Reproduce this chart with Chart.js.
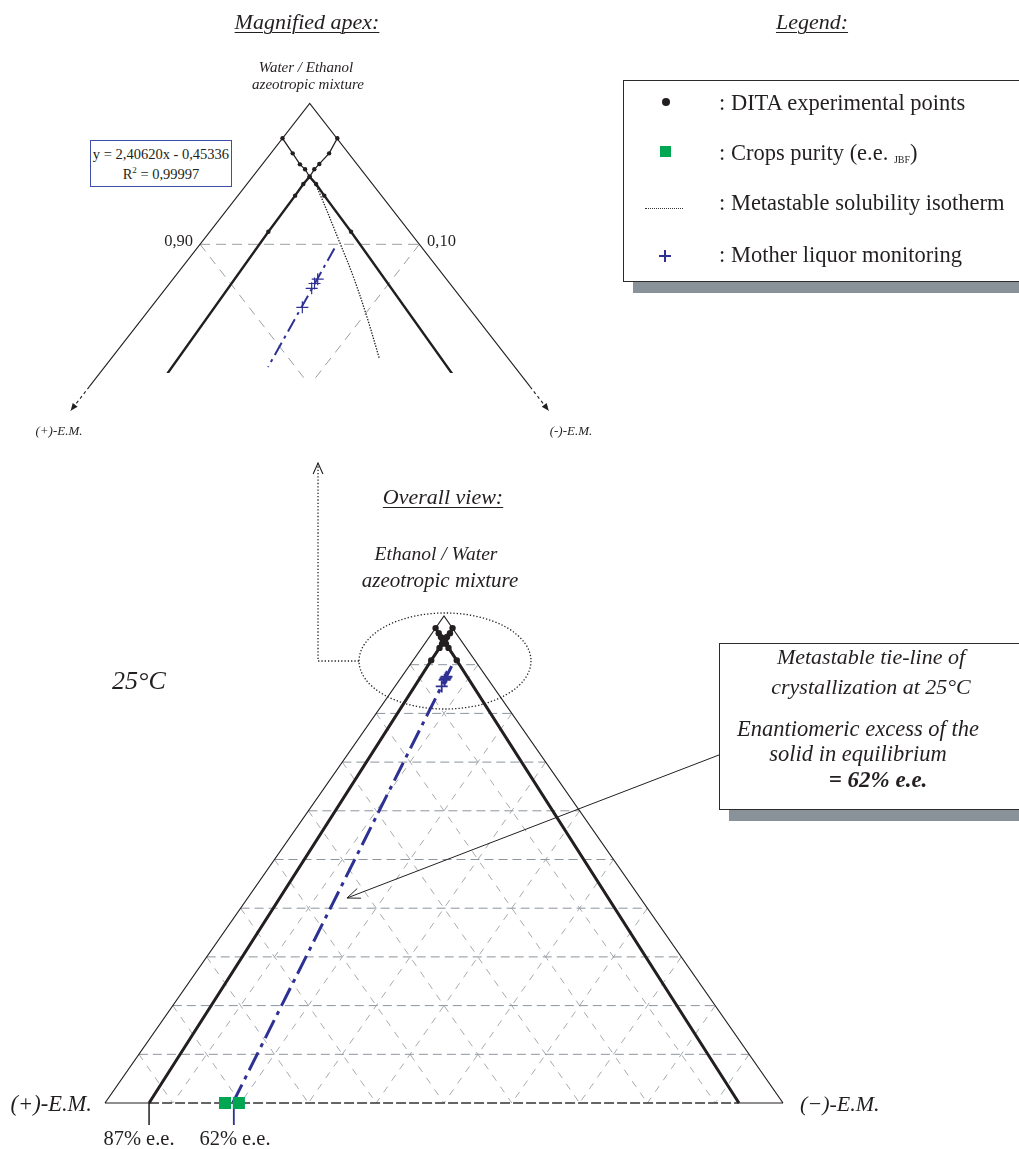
<!DOCTYPE html>
<html>
<head>
<meta charset="utf-8">
<title>DITA ternary phase diagram – ethanol/water, 25 °C</title>
<script src="https://cdn.jsdelivr.net/npm/chart.js@4.4.1/dist/chart.umd.min.js"></script>
<style>
  html, body { margin: 0; padding: 0; background: #fff; }
  #page { position: relative; width: 1019px; height: 1149px; overflow: hidden;
          font-family: "Liberation Serif", "Times New Roman", serif; color: #231f20; }
  #plot { position: absolute; left: 0; top: 0; }
  .t { position: absolute; white-space: nowrap; line-height: 1; }
  .mid { transform: translate(-50%, -50%); }
  .lft { transform: translate(0, -50%); }
  .rgt { transform: translate(-100%, -50%); }
  .it { font-style: italic; }
  .ul { text-decoration: underline; text-underline-offset: 3px; text-decoration-thickness: 1.3px; }
  .box { position: absolute; background: #fff; border: 1.5px solid #2b2b2b; box-shadow: 10px 11px 0 #8a9299; }
</style>
</head>
<body>
<div id="page">
  <canvas id="plot" width="1019" height="1149"></canvas>

  <!-- headings -->
  <div class="t mid it ul" style="left:307px;top:22px;font-size:22px;">Magnified apex:</div>
  <div class="t mid it ul" style="left:812px;top:22px;font-size:22px;">Legend:</div>
  <div class="t mid it ul" style="left:443px;top:497px;font-size:22px;">Overall view:</div>

  <!-- magnified apex labels -->
  <div class="t mid it" style="left:306px;top:67px;font-size:15px;">Water / Ethanol</div>
  <div class="t mid it" style="left:308px;top:84px;font-size:15px;">azeotropic mixture</div>
  <div style="position:absolute;left:90px;top:140px;width:140px;height:45px;border:1px solid #3d4fa8;background:#fff;"></div>
  <div class="t mid" style="left:161px;top:154px;font-size:14.5px;">y = 2,40620x - 0,45336</div>
  <div class="t mid" style="left:161px;top:174px;font-size:14.5px;">R<sup style="font-size:9px;vertical-align:6px;line-height:0;">2</sup> = 0,99997</div>
  <div class="t rgt" style="left:193px;top:241px;font-size:16.5px;">0,90</div>
  <div class="t lft" style="left:427px;top:241px;font-size:16.5px;">0,10</div>
  <div class="t mid it" style="left:59px;top:430px;font-size:13px;">(+)-E.M.</div>
  <div class="t mid it" style="left:571px;top:430px;font-size:13px;">(-)-E.M.</div>

  <!-- legend -->
  <div class="box" style="left:623px;top:80px;width:420px;height:200px;"></div>
  <div style="position:absolute;left:662px;top:98px;width:8px;height:8px;border-radius:50%;background:#231f20;"></div>
  <div class="t lft" style="left:719px;top:103px;font-size:22.5px;">: DITA experimental points</div>
  <div style="position:absolute;left:660px;top:146px;width:11px;height:11px;background:#00a651;"></div>
  <div class="t lft" style="left:719px;top:153px;font-size:22.5px;">: Crops purity (e.e. <span style="font-size:10px;vertical-align:-3px;">JBF</span>)</div>
  <div style="position:absolute;left:645px;top:208px;width:38px;height:0;border-top:1.5px dotted #333;"></div>
  <div class="t lft" style="left:719px;top:203px;font-size:22.5px;">: Metastable solubility isotherm</div>
  <div style="position:absolute;left:659px;top:255px;width:12px;height:2px;background:#2e3192;"></div>
  <div style="position:absolute;left:664px;top:250px;width:2px;height:12px;background:#2e3192;"></div>
  <div class="t lft" style="left:719px;top:255px;font-size:22.5px;">: Mother liquor monitoring</div>

  <!-- overall view labels -->
  <div class="t mid it" style="left:436px;top:554px;font-size:19.5px;">Ethanol / Water</div>
  <div class="t mid it" style="left:440px;top:580px;font-size:21px;">azeotropic mixture</div>
  <div class="t lft it" style="left:112px;top:681px;font-size:26px;">25°C</div>
  <div class="t rgt it" style="left:92px;top:1104px;font-size:22.5px;">(+)-E.M.</div>
  <div class="t lft it" style="left:800px;top:1104px;font-size:22px;">(−)-E.M.</div>
  <div class="t mid" style="left:139px;top:1138px;font-size:20.5px;">87% e.e.</div>
  <div class="t mid" style="left:235px;top:1138px;font-size:20.5px;">62% e.e.</div>

  <!-- tie-line note -->
  <div class="box" style="left:719px;top:643px;width:330px;height:165px;"></div>
  <div class="t mid it" style="left:871px;top:657px;font-size:22px;">Metastable tie-line of</div>
  <div class="t mid it" style="left:871px;top:687px;font-size:22px;">crystallization at 25°C</div>
  <div class="t mid it" style="left:858px;top:729px;font-size:22.5px;">Enantiomeric excess of the</div>
  <div class="t mid it" style="left:858px;top:754px;font-size:22.5px;">solid in equilibrium</div>
  <div class="t mid it" style="left:878px;top:779px;font-size:23px;font-weight:bold;">= 62% e.e.</div>
</div>

<script>
// ---------------------------------------------------------------------------
// Compositions are mass fractions: s = ethanol/water solvent,
// wM = (−)-enantiomer, wP = (+)-enantiomer (wP + wM + s = 1).
// ---------------------------------------------------------------------------

// DITA solubility branch running down to the (−)-E.M. side: solvent and (+) fractions
const branchToMinusSolvent = [0.9752, 0.9645, 0.9567, 0.9532, 0.9479, 0.9428, 0.9345, 0.9089];
const branchToMinusWPlus   = [0.0248, 0.0255, 0.0261, 0.0255, 0.0261, 0.0257, 0.0261, 0.0267];
// DITA solubility branch running down to the (+)-E.M. side: solvent and (−) fractions
const branchToPlusSolvent  = [0.9752, 0.9645, 0.9570, 0.9532, 0.9479, 0.9428, 0.9345, 0.9089];
const branchToPlusWMinus   = [0.0250, 0.0266, 0.0259, 0.0255, 0.0260, 0.0257, 0.0261, 0.0267];
const crossingIndex = 4;          // double-saturation (racemic) point
const branchBaseEE = 0.87;        // e.e. where each branch reaches the solvent-free base

// metastable solubility isotherm: solvent and (−) fractions
const isothermSolvent = [0.9463, 0.9409, 0.9007, 0.8770, 0.8487, 0.8191];
const isothermWMinus  = [0.0275, 0.0327, 0.0635, 0.0814, 0.1017, 0.1222];

// mother liquor monitoring: solvent and (−) fractions
const motherLiquorSolvent = [0.8753, 0.8722, 0.8688, 0.8553];
const motherLiquorWMinus  = [0.0660, 0.0661, 0.0665, 0.0690];

// crops purity (e.e. JBF) of the recovered solids, on the base
const cropsEE = [0.646, 0.605];

// tie-line regression, y = a·x + b in equilateral cartesian coordinates
const tieSlope = 2.40620;
const tieIntercept = -0.45336;
const tieTopSolvent = 0.897;      // upper end of the tie-line
const tieMagLowSolvent = 0.813;   // lower end inside the magnified window
const tieLineEE = 0.62;

// grid ticks (fractions)
const gridTicks = [0.1, 0.2, 0.3, 0.4, 0.5, 0.6, 0.7, 0.8, 0.9];
const magGridTick = 0.90;
const magGridFloor = 0.805;       // lowest solvent fraction of the magnified grid
const magEdgeSolid = 0.799;       // magnified edges: solid part ends here
const magEdgeArrow = 0.782;       // ...dashed continuation ends at the arrow tip

// ---------------------------------------------------------------------------
const SQ3_2 = Math.sqrt(3) / 2;
const pt = (s, wM) => ({ x: wM + s / 2, y: s });               // ternary -> plane
const eeBase = (ee, towardPlus) => pt(0, towardPlus ? (1 - ee) / 2 : (1 + ee) / 2);
const tiePoint = s => ({ x: (s * SQ3_2 - tieIntercept) / tieSlope, y: s });

const branchA = branchToMinusSolvent.map((s, i) => pt(s, 1 - s - branchToMinusWPlus[i]));
const branchB = branchToPlusSolvent.map((s, i) => pt(s, branchToPlusWMinus[i]));
const lineA = branchA.concat([eeBase(branchBaseEE, false)]);
const lineB = branchB.concat([eeBase(branchBaseEE, true)]);
const ditaPoints = branchA.concat(branchB);
const isotherm = isothermSolvent.map((s, i) => pt(s, isothermWMinus[i]));
const motherLiquor = motherLiquorSolvent.map((s, i) => pt(s, motherLiquorWMinus[i]));
const crops = cropsEE.map(ee => eeBase(ee, true));

const BLACK = '#231f20', BLUE = '#2e3192', GREEN = '#00a651';
const HGRID = '#8c949c', DGRID = '#a6abb0';

const datasets = [];
function line(data, axes, style, order) {
  datasets.push(Object.assign({
    type: 'scatter', data, showLine: true, pointRadius: 0, tension: 0,
    borderColor: BLACK, borderWidth: 1, backgroundColor: BLACK,
    xAxisID: axes[0], yAxisID: axes[1], order
  }, style));
}
function marks(data, axes, style, order) {
  datasets.push(Object.assign({
    type: 'scatter', data, showLine: false,
    xAxisID: axes[0], yAxisID: axes[1], order
  }, style));
}
const OV = ['x', 'y'], MG = ['xm', 'ym'];

// ---- overall view: ternary grid ----
gridTicks.forEach(c => {
  line([pt(c, 0), pt(c, 1 - c)], OV, { borderColor: HGRID, borderDash: [9, 5] }, 20);           // solvent = c
  line([pt(1 - c, 0), pt(0, 1 - c)], OV, { borderColor: DGRID, borderDash: [7, 7] }, 21);       // wP = c
  line([pt(1 - c, c), pt(0, c)], OV, { borderColor: DGRID, borderDash: [7, 7] }, 21);           // wM = c
});
// triangle edges
line([pt(0, 0), pt(1, 0), pt(0, 1)], OV, { borderWidth: 1.2 }, 10);
line([pt(0, 0), eeBase(branchBaseEE, true)], OV, { borderWidth: 1.2 }, 10);
line([eeBase(branchBaseEE, false), pt(0, 1)], OV, { borderWidth: 1.2 }, 10);
line([eeBase(branchBaseEE, true), eeBase(branchBaseEE, false)], OV,
     { borderColor: '#333', borderWidth: 1.6, borderDash: [10, 3] }, 10);
// solubility branches: thin above the crossing, thick below
const branchSeg = (thin, thick) => ({ borderWidth: c => c.p0DataIndex < crossingIndex ? thin : thick });
line(lineA, OV, { borderWidth: 3, segment: branchSeg(1.5, 3) }, 6);
line(lineB, OV, { borderWidth: 3, segment: branchSeg(1.5, 3) }, 6);
// e.e. ticks below the base
line([eeBase(branchBaseEE, true), { x: eeBase(branchBaseEE, true).x, y: -0.045 }], OV, { borderWidth: 1.5 }, 6);
line([eeBase(tieLineEE, true), { x: eeBase(tieLineEE, true).x, y: -0.045 }], OV, { borderColor: BLUE, borderWidth: 1.8 }, 6);
// tie-line
line([tiePoint(tieTopSolvent), tiePoint(0)], OV,
     { borderColor: BLUE, borderWidth: 3, borderDash: [20, 6, 4, 6] }, 5);
marks(motherLiquor, OV, { pointStyle: 'cross', pointRadius: 6, borderColor: BLUE, borderWidth: 1.8 }, 2);
marks(crops, OV, { pointStyle: 'rect', pointRadius: 8.5, backgroundColor: GREEN, borderColor: GREEN, borderWidth: 0 }, 3);
marks(ditaPoints, OV, { pointStyle: 'circle', pointRadius: 3.2, backgroundColor: BLACK, borderColor: BLACK, borderWidth: 0 }, 1);

// ---- magnified apex ----
const magClipBranch = { left: false, top: false, right: false, bottom: 373 - 1149 };
line([pt(magGridTick, 0), pt(magGridTick, 1 - magGridTick)], MG, { borderColor: '#9a9ea3', borderDash: [10, 6] }, 20);
line([pt(magGridTick, 0), pt(magGridFloor, 1 - (1 - magGridTick) - magGridFloor)], MG, { borderColor: '#9a9ea3', borderDash: [9, 7] }, 20);
line([pt(magGridTick, 1 - magGridTick), pt(magGridFloor, 1 - magGridTick)], MG, { borderColor: '#9a9ea3', borderDash: [9, 7] }, 20);
line([pt(magEdgeSolid, 0), pt(1, 0), pt(magEdgeSolid, 1 - magEdgeSolid)], MG, { borderWidth: 1.1 }, 10);
line([pt(magEdgeSolid, 0), pt(magEdgeArrow, 0)], MG, { borderWidth: 1.1, borderDash: [3, 3] }, 10);
line([pt(magEdgeSolid, 1 - magEdgeSolid), pt(magEdgeArrow, 1 - magEdgeArrow)], MG, { borderWidth: 1.1, borderDash: [3, 3] }, 10);
line(lineA, MG, { borderWidth: 2.4, segment: branchSeg(1.3, 2.4), clip: magClipBranch }, 6);
line(lineB, MG, { borderWidth: 2.4, segment: branchSeg(1.3, 2.4), clip: magClipBranch }, 6);
line(isotherm, MG, { borderWidth: 1.3, borderDash: [1.4, 1.4], tension: 0.35 }, 6);
line([tiePoint(tieTopSolvent), tiePoint(tieMagLowSolvent)], MG,
     { borderColor: BLUE, borderWidth: 2, borderDash: [14, 5, 3, 5] }, 5);
marks(motherLiquor, MG, { pointStyle: 'cross', pointRadius: 6, borderColor: BLUE, borderWidth: 1.2 }, 2);
marks(ditaPoints, MG, { pointStyle: 'circle', pointRadius: 2.2, backgroundColor: BLACK, borderColor: BLACK, borderWidth: 0 }, 1);

// ---- annotation geometry in overall-view units ----
const zoomEllipse = { cx: 0.5015, cy: 0.9076, rx: 0.1268, ry: 0.0986 };
const zoomConnector = [{ x: 0.3746, y: 0.9076 }, { x: 0.3142, y: 0.9076 }, { x: 0.3142, y: 1.3142 }];
const noteArrow = [{ x: 0.9056, y: 0.7146 }, { x: 0.3569, y: 0.4209 }];

function arrowHead(ctx, from, to, len, half, filled) {
  const a = Math.atan2(to[1] - from[1], to[0] - from[0]);
  const p1 = [to[0] - len * Math.cos(a - half), to[1] - len * Math.sin(a - half)];
  const p2 = [to[0] - len * Math.cos(a + half), to[1] - len * Math.sin(a + half)];
  ctx.setLineDash([]);
  ctx.beginPath();
  ctx.moveTo(p1[0], p1[1]); ctx.lineTo(to[0], to[1]); ctx.lineTo(p2[0], p2[1]);
  if (filled) { ctx.closePath(); ctx.fill(); } else { ctx.stroke(); }
}

const decorations = {
  id: 'decorations',
  afterDatasetsDraw(chart) {
    const { ctx, scales: { x, y, xm, ym } } = chart;
    const P = q => [x.getPixelForValue(q.x), y.getPixelForValue(q.y)];
    const M = q => [xm.getPixelForValue(q.x), ym.getPixelForValue(q.y)];
    ctx.save();
    ctx.strokeStyle = BLACK; ctx.fillStyle = BLACK;

    // dotted ellipse round the apex
    const c = P({ x: zoomEllipse.cx, y: zoomEllipse.cy });
    const rx = Math.abs(x.getPixelForValue(zoomEllipse.cx + zoomEllipse.rx) - c[0]);
    const ry = Math.abs(y.getPixelForValue(zoomEllipse.cy + zoomEllipse.ry) - c[1]);
    ctx.lineWidth = 1.3; ctx.setLineDash([1.3, 2]);
    ctx.beginPath(); ctx.ellipse(c[0], c[1], rx, ry, 0, 0, 2 * Math.PI); ctx.stroke();

    // dotted connector up to the magnified view
    const cp = zoomConnector.map(P);
    ctx.beginPath(); ctx.moveTo(cp[0][0], cp[0][1]);
    cp.slice(1).forEach(p => ctx.lineTo(p[0], p[1]));
    ctx.stroke();
    ctx.lineWidth = 1.1;
    arrowHead(ctx, cp[1], cp[2], 12, 0.42, false);

    // note arrow
    const na = noteArrow.map(P);
    ctx.lineWidth = 1; ctx.setLineDash([]);
    ctx.beginPath(); ctx.moveTo(na[0][0], na[0][1]); ctx.lineTo(na[1][0], na[1][1]); ctx.stroke();
    arrowHead(ctx, na[0], na[1], 14, 0.38, false);

    // arrow tips on the magnified edges
    arrowHead(ctx, M(pt(magEdgeSolid, 0)), M(pt(magEdgeArrow, 0)), 8, 0.4, true);
    arrowHead(ctx, M(pt(magEdgeSolid, 1 - magEdgeSolid)), M(pt(magEdgeArrow, 1 - magEdgeArrow)), 8, 0.4, true);
    ctx.restore();
  }
};

const W = 1019, H = 1149;
const ovPx = { left: 105, right: 783, base: 1103, apex: 616 };       // overall triangle frame
const mgPx = { cx: 309.7, apex: 103.3, perX: 2193, perS: 1410 };      // magnified frame
const ovPerX = ovPx.right - ovPx.left, ovPerS = ovPx.base - ovPx.apex;

new Chart(document.getElementById('plot'), {
  type: 'scatter',
  data: { datasets },
  options: {
    responsive: false, animation: false, devicePixelRatio: 1, events: [],
    layout: { padding: 0, autoPadding: false },
    plugins: { legend: { display: false }, tooltip: { enabled: false } },
    scales: {
      x:  { type: 'linear', display: false, min: -ovPx.left / ovPerX, max: (W - ovPx.left) / ovPerX },
      y:  { type: 'linear', display: false, min: (ovPx.base - H) / ovPerS, max: ovPx.base / ovPerS },
      xm: { type: 'linear', axis: 'x', position: 'bottom', display: false,
            min: 0.5 - mgPx.cx / mgPx.perX, max: 0.5 + (W - mgPx.cx) / mgPx.perX },
      ym: { type: 'linear', axis: 'y', position: 'left', display: false,
            min: 1 - (H - mgPx.apex) / mgPx.perS, max: 1 + mgPx.apex / mgPx.perS }
    }
  },
  plugins: [decorations]
});
</script>
</body>
</html>
